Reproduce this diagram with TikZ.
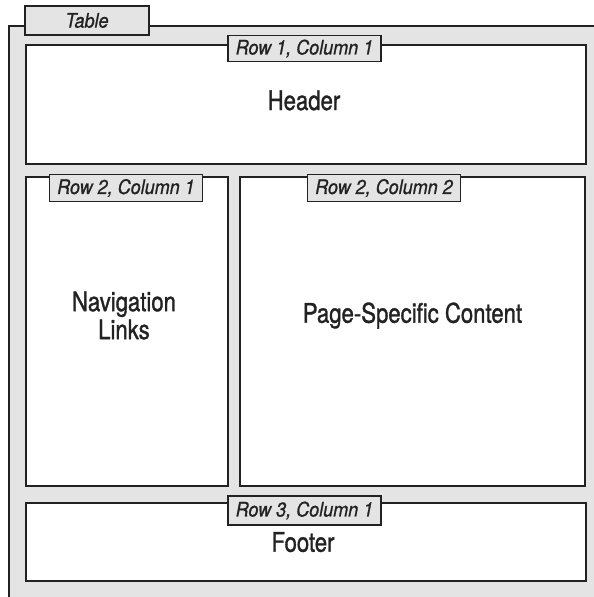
\documentclass[tikz,border=0pt]{standalone}
\usepackage{fontspec}
\setmainfont{TeX Gyre Heros}[FakeStretch=0.82, FakeBold=1.2]
\newfontfamily\tagfont{TeX Gyre Heros}[FakeStretch=0.9, FakeBold=0.9]
\usepackage{xcolor}
\usetikzlibrary{positioning}

\definecolor{panelgray}{HTML}{E4E4E4}
\definecolor{inkdark}{HTML}{222222}

\begin{document}
\begin{tikzpicture}[x=1pt, y=-1pt, line width=1.8pt, inkdark,
    cell/.style={draw=inkdark, fill=white, anchor=north west, inner sep=0pt},
    tag/.style={draw=inkdark, fill=panelgray, inner sep=0pt, minimum width=153pt, minimum height=27pt,
      font=\tagfont\fontsize{20}{22}\selectfont\itshape},
    bigtext/.style={font=\fontsize{27}{28}\selectfont, align=center, text=inkdark}]
    \useasboundingbox (0,0) rectangle (594,597);
    \begin{scope}
        \clip (0,0) rectangle (594,597);
        \draw[fill=panelgray] (9,26) rectangle (620,620);
    \end{scope}
    \node[tag, minimum width=124pt, minimum height=29pt] (tabletag) at (87,20.5) {Table};

    % cells
    \node[cell, minimum width=560pt, minimum height=119pt] (header) at (25,44) {};
    \node[cell, minimum width=202pt, minimum height=309pt] (nav) at (25,176) {};
    \node[cell, minimum width=345pt, minimum height=309pt] (content) at (239,176) {};
    \node[cell, minimum width=560pt, minimum height=78pt] (footer) at (25,502) {};

    % cell tags
    \node[tag, minimum height=26pt] (tagA) at (304.5,48.5) {Row 1, Column 1};
    \node[tag] (tagB) at (126,188) {Row 2, Column 1};
    \node[tag] (tagC) at (384,188) {Row 2, Column 2};
    \node[tag, minimum height=29pt] (tagD) at (304.5,510.5) {Row 3, Column 1};

    % cell texts
    \node[bigtext, anchor=base] (headertext) at (304,110) {Header};
    \node[bigtext] (navtext) at (124,315.5) {Navigation\\Links};
    \node[bigtext, anchor=base] (contenttext) at (412.5,322.7) {Page-Specific Content};
    \node[bigtext, anchor=base] (footertext) at (303,551.7) {Footer};
\end{tikzpicture}
\end{document}
